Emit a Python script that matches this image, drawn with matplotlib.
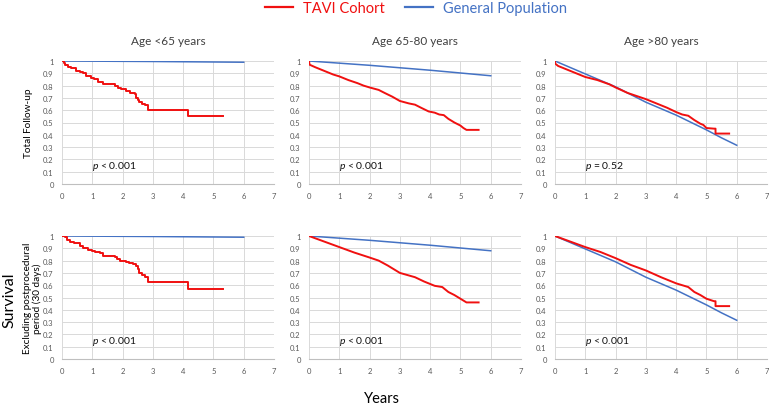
import matplotlib
matplotlib.use("Agg")
import matplotlib.pyplot as plt
from matplotlib.lines import Line2D

plt.rcParams['font.family'] = ['Lato', 'DejaVu Sans']
plt.rcParams['mathtext.fontset'] = 'custom'
plt.rcParams['mathtext.it'] = 'Lato:italic'
plt.rcParams['mathtext.rm'] = 'Lato'

RED = '#f01010'
BLUE = '#4472c4'

age_groups = ['Age <65 years', 'Age 65-80 years', 'Age >80 years']
row_labels = ['Total Follow-up', 'Excluding postprocedural\nperiod (30 days)']
p_values = [['$\\it{p}$ < 0.001', '$\\it{p}$ < 0.001', '$\\it{p}$ = 0.52'],
            ['$\\it{p}$ < 0.001', '$\\it{p}$ < 0.001', '$\\it{p}$ < 0.001']]

# TAVI cohort, age <65 (few events -> step curve)
tavi_lt65_total_t = [0, 0.05, 0.1, 0.2, 0.3, 0.45, 0.6, 0.7, 0.8, 0.95, 1.05, 1.2, 1.35, 1.75, 1.85, 1.95,
                     2.1, 2.25, 2.4, 2.45, 2.5, 2.55, 2.65, 2.75, 2.85, 4.15, 5.3]
tavi_lt65_total_s = [1.0, 0.98, 0.97, 0.95, 0.94, 0.92, 0.91, 0.90, 0.88, 0.86, 0.85, 0.83, 0.81, 0.80, 0.78, 0.77,
                     0.76, 0.74, 0.73, 0.70, 0.68, 0.67, 0.65, 0.64, 0.60, 0.55, 0.55]
tavi_lt65_excl_t = [0, 0.1, 0.15, 0.25, 0.4, 0.6, 0.7, 0.85, 1.0, 1.1, 1.25, 1.35, 1.75, 1.8, 1.9, 2.1, 2.2,
                    2.35, 2.45, 2.5, 2.55, 2.65, 2.75, 2.85, 4.15, 5.3]
tavi_lt65_excl_s = [1.0, 0.99, 0.97, 0.95, 0.94, 0.92, 0.90, 0.89, 0.88, 0.87, 0.86, 0.84, 0.83, 0.81, 0.80, 0.79,
                    0.78, 0.77, 0.76, 0.73, 0.70, 0.68, 0.67, 0.63, 0.57, 0.57]

# TAVI cohort, age 65-80 and >80 (many events -> near-continuous curve)
tavi_6580_total_t = [0, 0.02, 0.2, 0.5, 0.8, 1.0, 1.3, 1.6, 1.8, 2.0, 2.3, 2.5, 2.75, 3.0, 3.3, 3.5, 3.7, 3.95,
                     4.15, 4.3, 4.45, 4.6, 4.8, 5.0, 5.1, 5.2, 5.6]
tavi_6580_total_s = [1.0, 0.97, 0.95, 0.92, 0.89, 0.875, 0.845, 0.82, 0.80, 0.785, 0.765, 0.74, 0.71, 0.675,
                     0.655, 0.645, 0.62, 0.59, 0.58, 0.565, 0.56, 0.53, 0.50, 0.475, 0.455, 0.44, 0.44]
tavi_6580_excl_t = [0, 0.5, 1.0, 1.5, 2.0, 2.3, 2.6, 3.0, 3.5, 3.8, 4.0, 4.15, 4.4, 4.6, 4.8, 5.0, 5.2, 5.6]
tavi_6580_excl_s = [1.0, 0.955, 0.91, 0.865, 0.825, 0.80, 0.76, 0.70, 0.665, 0.63, 0.61, 0.595, 0.585, 0.545,
                    0.52, 0.49, 0.46, 0.46]

tavi_gt80_total_t = [0, 0.0, 0.1, 0.4, 0.7, 1.0, 1.4, 1.8, 2.0, 2.4, 2.7, 3.0, 3.4, 3.7, 4.0, 4.2, 4.4, 4.6, 4.8,
                     4.9, 5.0, 5.25, 5.3, 5.3, 5.75]
tavi_gt80_total_s = [1.0, 0.98, 0.96, 0.93, 0.90, 0.87, 0.845, 0.81, 0.785, 0.74, 0.715, 0.69, 0.65, 0.62, 0.585,
                     0.565, 0.555, 0.52, 0.49, 0.48, 0.455, 0.45, 0.45, 0.41, 0.41]
tavi_gt80_excl_t = [0, 0.5, 1.0, 1.5, 2.0, 2.5, 3.0, 3.5, 4.0, 4.4, 4.6, 4.8, 5.0, 5.25, 5.3, 5.3, 5.75]
tavi_gt80_excl_s = [1.0, 0.955, 0.91, 0.87, 0.82, 0.765, 0.72, 0.665, 0.615, 0.585, 0.545, 0.52, 0.49, 0.47,
                    0.47, 0.43, 0.43]

# General population (expected survival)
gen_lt65_t = [0, 3, 6]
gen_lt65_s = [1.0, 0.996, 0.99]
gen_6580_t = [0, 2, 4, 6]
gen_6580_s = [1.0, 0.965, 0.925, 0.88]
gen_gt80_t = [0, 1, 2, 3, 4, 4.5, 5, 5.5, 6]
gen_gt80_s = [1.0, 0.895, 0.79, 0.665, 0.56, 0.50, 0.44, 0.375, 0.315]

tavi = [[(tavi_lt65_total_t, tavi_lt65_total_s), (tavi_6580_total_t, tavi_6580_total_s), (tavi_gt80_total_t, tavi_gt80_total_s)],
        [(tavi_lt65_excl_t, tavi_lt65_excl_s), (tavi_6580_excl_t, tavi_6580_excl_s), (tavi_gt80_excl_t, tavi_gt80_excl_s)]]
general = [(gen_lt65_t, gen_lt65_s), (gen_6580_t, gen_6580_s), (gen_gt80_t, gen_gt80_s)]

fig = plt.figure(figsize=(7.69, 4.06), dpi=100)
W, H = 769, 406
lefts = [62, 309, 555]
tops = [62, 237]
aw, ah = 212, 123
label_x = [-0.135, -0.092]

for r in range(2):
    for c in range(3):
        ax = fig.add_axes([lefts[c] / W, 1 - (tops[r] + ah) / H, aw / W, ah / H])
        t, s = tavi[r][c]
        if c == 0:
            ax.step(t, s, where='post', color=RED, lw=1.4, zorder=3)
        else:
            ax.plot(t, s, color=RED, lw=1.4, zorder=3)
        gt, gs = general[c]
        ax.plot(gt, gs, color=BLUE, lw=1.1, zorder=2)
        ax.set_xlim(0, 7)
        ax.set_ylim(0, 1)
        ax.set_xticks(range(8))
        ax.set_yticks([i / 10 for i in range(11)])
        ax.set_yticklabels(['0'] + [f'{i / 10:g}' for i in range(1, 10)] + ['1'])
        ax.grid(True, color='#d9d9d9', lw=0.7)
        ax.set_axisbelow(True)
        for side in ['top', 'right', 'left']:
            ax.spines[side].set_visible(False)
        ax.spines['bottom'].set_color('#bfbfbf')
        ax.tick_params(length=0, labelsize=5.5, labelcolor='#595959', pad=6)
        ax.text(1.0, 0.15, p_values[r][c], fontsize=7.5, va='center', color='#111111')
        if r == 0:
            ax.set_title(age_groups[c], fontsize=8.5, color='#404040', pad=12)
        if c == 0:
            ax.set_ylabel(row_labels[r], fontsize=7.2, linespacing=1.1)
            ax.yaxis.set_label_coords(label_x[r], 0.5)

fig.text(9 / W, 1 - 300 / H, 'Survival', rotation=90, fontsize=11.5, va='center', ha='center')
fig.text(382 / W, 1 - 399 / H, 'Years', fontsize=10.5, va='center', ha='center')

handles = [Line2D([], [], color=RED, lw=1.6), Line2D([], [], color=BLUE, lw=1.6)]
leg = fig.legend(handles, ['TAVI Cohort', 'General Population'], loc='center', bbox_to_anchor=(416 / W, 1 - 9 / H),
                 ncol=2, frameon=False, fontsize=10.5, handlelength=1.9, columnspacing=1.4, handletextpad=0.7,
                 borderaxespad=0)
for txt, col in zip(leg.get_texts(), [RED, BLUE]):
    txt.set_color(col)

fig.savefig('out.png', dpi=100)
